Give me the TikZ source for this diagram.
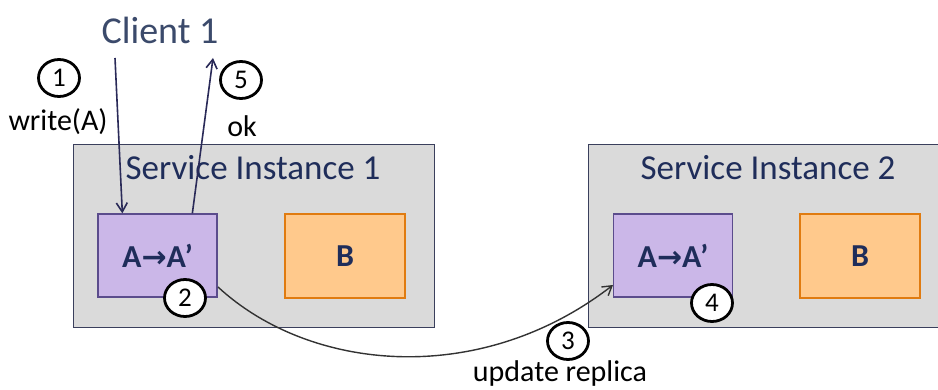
\documentclass[tikz,border=0pt]{standalone}
\usepackage{fontspec}
\setmainfont{Carlito}
\newfontfamily\arrowfont{DejaVu Sans}
\usetikzlibrary{shapes.geometric,arrows.meta,calc}
\definecolor{navy}{HTML}{1F2D5A}
\definecolor{clientc}{HTML}{3B4A6B}
\definecolor{grayfill}{HTML}{DADADA}
\definecolor{grayedge}{HTML}{3A3F5C}
\definecolor{purplefill}{HTML}{CBB7E8}
\definecolor{purpleedge}{HTML}{5B4C8C}
\definecolor{orangefill}{HTML}{FFC98C}
\definecolor{orangeedge}{HTML}{E07B10}
\definecolor{arrowc}{HTML}{2A2A58}
\tikzset{
  instbox/.style={draw=grayedge, fill=grayfill, line width=1pt, minimum width=#1, minimum height=183pt, inner sep=0pt},
  titletext/.style={text=navy, font=\fontsize{35}{38}\selectfont},
  databox/.style={draw=purpleedge, fill=purplefill, line width=1.3pt, minimum width=119pt, minimum height=83pt, inner sep=0pt, text=navy, font=\bfseries\fontsize{32}{34}\selectfont},
  bbox/.style={draw=orangeedge, fill=orangefill, line width=1.5pt, minimum width=120pt, minimum height=84pt, inner sep=0pt, text=navy, font=\bfseries\fontsize{32}{34}\selectfont},
  stepnum/.style={ellipse, draw=black, fill=white, line width=2.8pt, minimum width=41pt, minimum height=37pt, inner sep=0pt, font=\fontsize{27}{29}\selectfont},
  lbl/.style={font=\fontsize{30}{32}\selectfont, text=black},
  clientarrow/.style={draw=arrowc, line width=1.6pt, -{Straight Barb[length=9pt,width=11pt,line width=1.6pt]}},
  replarrow/.style={draw=black!80, line width=1.4pt, -{Straight Barb[length=9pt,width=11pt,line width=1.4pt]}}
}
\newcommand{\AtoA}{A{\arrowfont\bfseries\fontsize{30}{32}\selectfont →}A’}
\begin{document}
\begin{tikzpicture}[x=1pt,y=-1pt]
\clip (0,0) rectangle (938,390);
\fill[white] (0,0) rectangle (938,390);
% instance boxes
\node[instbox=361pt] (si1) at (253.5,236.5) {};
\node[instbox=360pt] (si2) at (768,236) {};
\node[titletext] (t1) at (253,168) {Service Instance 1};
\node[titletext] (t2) at (768,168) {Service Instance 2};
% data boxes
\node[databox] (pa1) at (157.5,255.5) {\AtoA};
\node[bbox] (b1) at (345,256) {B};
\node[databox] (pa2) at (673,255.5) {\AtoA};
\node[bbox] (b2) at (860,256) {B};
% client
\node[text=clientc, font=\fontsize{38}{41}\selectfont] (client) at (160,30) {Client 1};
\coordinate (cw) at (115,58);
\coordinate (co) at (213,58);
\draw[clientarrow] (cw) -- ($(pa1.north west)+(25,0)$);
\draw[clientarrow] ($(pa1.north west)+(95,0)$) -- (co);
% replication curve
\coordinate (rs) at (218,287);
\coordinate (re) at (613,285);
\draw[replarrow] (rs) .. controls (310,372) and (480,388) .. (re);
% step numbers
\node[stepnum] (n1) at (59,78) {1};
\node[stepnum] (n5) at (241,80) {5};
\node[stepnum] (n2) at (185,298) {2};
\node[stepnum] (n4) at (712,303) {4};
\node[stepnum] (n3) at (568,341) {3};
% labels
\node[lbl] (lw) at (58,122) {write(A)};
\node[lbl] (lok) at (242,126) {ok};
\node[lbl] (lur) at (560,374) {update replica};
\end{tikzpicture}
\end{document}
